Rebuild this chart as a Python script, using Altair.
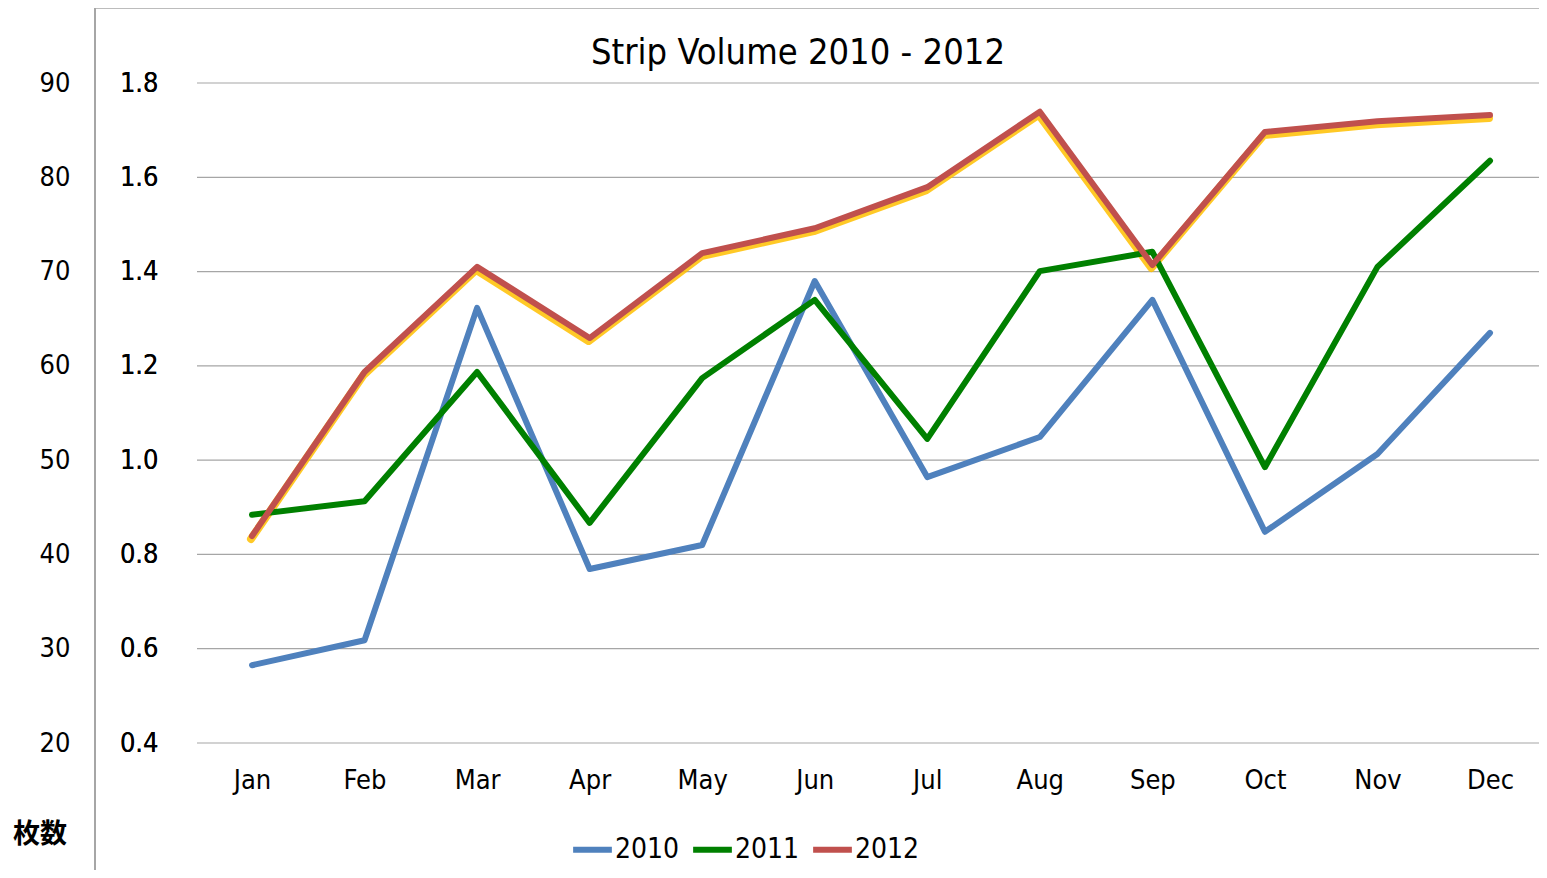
import altair as alt
import pandas as pd

months = ["Jan", "Feb", "Mar", "Apr", "May", "Jun", "Jul", "Aug", "Sep", "Oct", "Nov", "Dec"]
years = ["2010", "2011", "2012"]
v2010 = [0.565, 0.618, 1.323, 0.769, 0.820, 1.380, 0.964, 1.049, 1.340, 0.848, 1.013, 1.270]
v2011 = [0.884, 0.913, 1.187, 0.867, 1.174, 1.340, 1.045, 1.401, 1.442, 0.985, 1.410, 1.635]
v2012 = [0.839, 1.187, 1.410, 1.259, 1.439, 1.492, 1.579, 1.739, 1.414, 1.696, 1.719, 1.732]
colors = ["#4F81BD", "#008000", "#C0504D"]
y_ticks = [0.4, 0.6, 0.8, 1.0, 1.2, 1.4, 1.6, 1.8]
title_text = "Strip Volume 2010 - 2012"
left_label = "枚数"

FONT = "Liberation Sans Narrow, DejaVu Sans Condensed, sans-serif"

rows = []
for yr, vals in zip(years, [v2010, v2011, v2012]):
    for m, v in zip(months, vals):
        rows.append({"month": m, "year": yr, "value": v})
df = pd.DataFrame(rows)
ticks_df = pd.DataFrame({"value": y_ticks})

W, H = 1342, 660

y_scale = alt.Scale(domain=[0.4, 1.8], nice=False, zero=False)
x_enc = alt.X(
    "month:N", sort=months,
    scale=alt.Scale(type="point", range=[55, 1293], padding=0),
    axis=alt.Axis(title=None, labelAngle=0, ticks=False, domain=False,
                  labelFontSize=27, labelPadding=24, labelColor="black",
                  labelFont=FONT, grid=False),
)

y_main = alt.Y(
    "value:Q", scale=y_scale,
    axis=alt.Axis(title=None, values=y_ticks, format=".1f", ticks=False, domain=False,
                  labelFontSize=27, labelPadding=39, labelColor="black", labelFont=FONT,
                  grid=False, orient="left"),
)

grid = alt.Chart(ticks_df).mark_rule(color="#A6A6A6", strokeWidth=1.2).encode(
    y=alt.Y("value:Q", scale=y_scale, axis=None),
    x=alt.value(0), x2=alt.value(W),
)

glow = alt.Chart(df).transform_filter(alt.datum.year == "2012").mark_line(
    color="#FFC000", strokeWidth=8, opacity=0.85, yOffset=3, xOffset=-1,
    strokeCap="round", strokeJoin="round",
).encode(x=x_enc, y=y_main)

lines = alt.Chart(df).mark_line(strokeWidth=6, strokeCap="round", strokeJoin="round").encode(
    x=x_enc, y=y_main,
    color=alt.Color("year:N", scale=alt.Scale(domain=years, range=colors),
                    legend=alt.Legend(orient="none", legendX=373, legendY=744,
                                      direction="horizontal", title=None,
                                      symbolType="stroke", symbolSize=1500,
                                      symbolStrokeWidth=6, labelFontSize=28,
                                      labelFont=FONT, labelColor="black",
                                      labelOffset=0, columnPadding=1)),
)

second_axis = alt.Chart(df).mark_line(opacity=0).encode(
    x=x_enc,
    y=alt.Y("value:Q", scale=y_scale,
            axis=alt.Axis(orient="left", title=None, values=y_ticks,
                          labelExpr="round(datum.value * 50)", ticks=False, domain=False,
                          grid=False, labelFontSize=27, labelPadding=127,
                          labelColor="black", labelFont=FONT)),
)

one = alt.Data(values=[{"k": 1}])
vline = alt.Chart(one).mark_rule(color="#A6A6A6", strokeWidth=2).encode(
    x=alt.value(-102), y=alt.value(-75), y2=alt.value(800))
hline = alt.Chart(one).mark_rule(color="#A6A6A6", strokeWidth=1.5).encode(
    x=alt.value(-102), x2=alt.value(W), y=alt.value(-75))
title = alt.Chart(one).mark_text(text=title_text, fontSize=36, font=FONT,
                                 color="black", baseline="middle", align="center").encode(
    x=alt.value(601), y=alt.value(-30))
ylab = alt.Chart(one).mark_text(text=left_label, fontSize=27, fontWeight="bold",
                                font="Noto Sans CJK JP", color="black",
                                baseline="middle", align="center").encode(
    x=alt.value(-157), y=alt.value(752))

chart = alt.layer(second_axis, grid, glow, lines, vline, hline, title, ylab).resolve_axis(
    y="independent"
).properties(
    width=W, height=H,
    padding={"left": 189, "top": 75, "right": 0, "bottom": 127},
    autosize=alt.AutoSizeParams(type="none"),
    background="white",
).configure_view(strokeWidth=0)

chart.save("out.html", embed_options={"renderer": "svg", "actions": False})
